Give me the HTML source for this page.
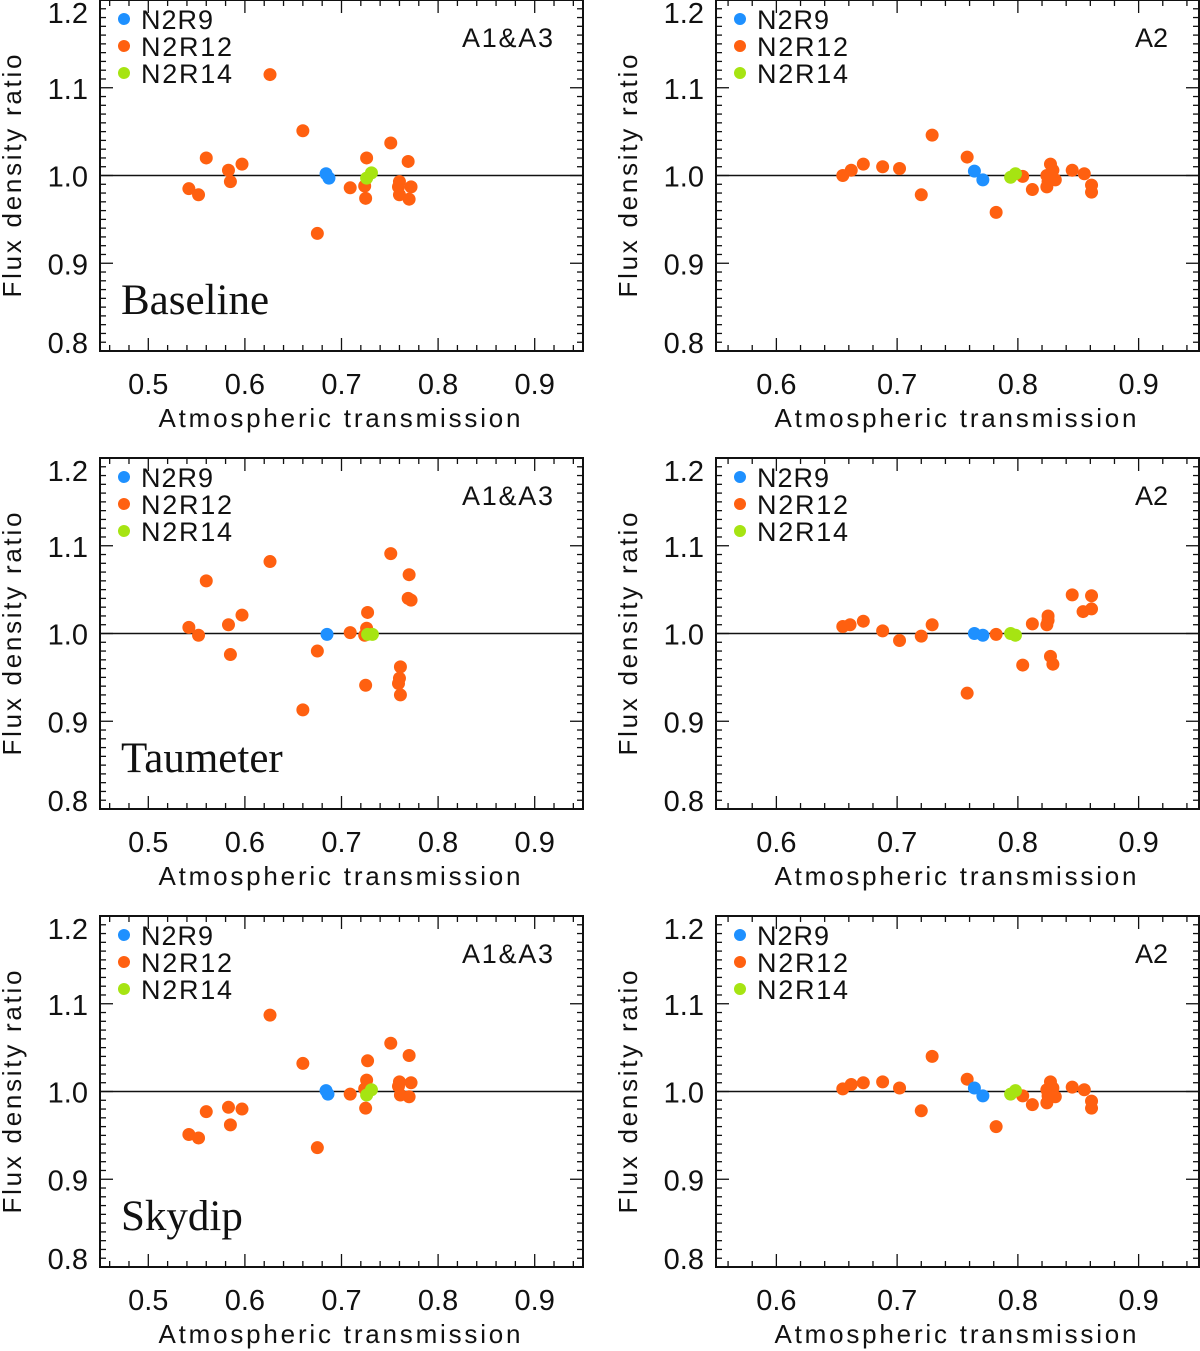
<!DOCTYPE html>
<html><head><meta charset="utf-8">
<style>
html,body{margin:0;padding:0;background:#fff;}
svg{display:block;}
text{font-family:"Liberation Sans",sans-serif;fill:#111;}
</style></head>
<body>
<svg id="fig" width="1200" height="1351" viewBox="0 0 1200 1351" xmlns="http://www.w3.org/2000/svg"></svg>
<script>
// ---- data: [x, y] per source, per panel ----
const p1L_N2R12 = [[.542,.985],[.552,.978],[.560,1.020],[.583,1.006],[.585,.993],[.597,1.013],[.626,1.115],[.660,1.051],[.675,.934],[.709,.986],[.724,.988],[.725,.974],[.726,1.020],[.751,1.037],[.760,.993],[.759,.987],[.760,.978],[.769,1.016],[.772,.987],[.770,.973]];
const p1L_N2R9 = [[.684,1.002],[.687,.997]];
const p1L_N2R14 = [[.726,.997],[.731,1.003]];
const p1R_N2R12 = [[.655,1.0],[.662,1.006],[.672,1.013],[.688,1.010],[.702,1.008],[.720,.978],[.729,1.046],[.758,1.021],[.782,.958],[.804,.999],[.812,.984],[.824,.987],[.824,1.0],[.827,1.013],[.829,1.006],[.831,.995],[.825,.993],[.845,1.006],[.855,1.002],[.861,.989],[.861,.981]];
const p1R_N2R9 = [[.764,1.005],[.771,.995]];
const p1R_N2R14 = [[.794,.998],[.798,1.002]];
const p2L_N2R12 = [[.542,1.007],[.552,.998],[.560,1.060],[.583,1.010],[.585,.976],[.597,1.021],[.626,1.082],[.660,.913],[.675,.980],[.709,1.001],[.724,.998],[.726,1.006],[.727,1.024],[.725,.941],[.751,1.091],[.761,.962],[.760,.949],[.759,.943],[.761,.930],[.770,1.067],[.769,1.040],[.772,1.038]];
const p2L_N2R9 = [[.685,.999]];
const p2L_N2R14 = [[.727,.999],[.732,.999]];
const p2R_N2R12 = [[.655,1.008],[.661,1.010],[.672,1.014],[.688,1.003],[.702,.992],[.720,.997],[.729,1.010],[.758,.932],[.782,.999],[.804,.964],[.812,1.011],[.824,1.010],[.825,1.020],[.825,1.015],[.827,.974],[.829,.965],[.845,1.044],[.854,1.025],[.861,1.028],[.861,1.043]];
const p2R_N2R9 = [[.764,1.0],[.771,.998]];
const p2R_N2R14 = [[.794,1.0],[.798,.998]];
const p3L_N2R12 = [[.542,.951],[.552,.947],[.560,.977],[.583,.982],[.585,.962],[.597,.980],[.626,1.087],[.660,1.032],[.675,.936],[.709,.997],[.724,1.003],[.726,1.013],[.727,1.035],[.725,.981],[.751,1.055],[.760,1.011],[.759,1.006],[.761,.996],[.770,1.041],[.772,1.010],[.770,.994]];
const p3L_N2R9 = [[.684,1.001],[.686,.997]];
const p3L_N2R14 = [[.726,.996],[.731,1.002]];
const p3R_N2R12 = [[.655,1.003],[.662,1.008],[.672,1.010],[.688,1.011],[.702,1.004],[.720,.978],[.729,1.040],[.758,1.014],[.782,.960],[.804,.995],[.812,.985],[.824,.987],[.824,1.002],[.827,1.011],[.829,1.004],[.831,.994],[.825,.995],[.845,1.005],[.855,1.002],[.861,.989],[.861,.981]];
const p3R_N2R9 = [[.764,1.004],[.771,.995]];
const p3R_N2R14 = [[.794,.997],[.798,1.001]];
const xTicksL = [0.5,0.6,0.7,0.8,0.9];
const xTicksR = [0.6,0.7,0.8,0.9];
const yTicks = [0.8,0.9,1.0,1.1,1.2];
const methods = ["Baseline","Taumeter","Skydip"];
const seriesNames = ["N2R9","N2R12","N2R14"];

const NS="http://www.w3.org/2000/svg";
const svg=document.getElementById('fig');
const colors={"N2R9":"#1e90ff","N2R12":"#ff6010","N2R14":"#a6e412"};
const legendLen={"N2R9":72,"N2R12":91,"N2R14":91};
function mk(tag,attrs,parent){const e=document.createElementNS(NS,tag);for(const k in attrs)e.setAttribute(k,attrs[k]);(parent||svg).appendChild(e);return e;}

const data=[
 [[p1L_N2R9,p1L_N2R12,p1L_N2R14],[p1R_N2R9,p1R_N2R12,p1R_N2R14]],
 [[p2L_N2R9,p2L_N2R12,p2L_N2R14],[p2R_N2R9,p2R_N2R12,p2R_N2R14]],
 [[p3L_N2R9,p3L_N2R12,p3L_N2R14],[p3R_N2R9,p3R_N2R12,p3R_N2R14]]];

function panel(row,col){
  const top=row*458, bot=top+351;
  const left=col?716:100, right=col?1199:583;
  const xmin=col?0.55:0.45, xmax=0.95;
  const X=v=>left+(v-xmin)/(xmax-xmin)*(right-left);
  const Y=v=>bot-(v-0.8)/0.4*(bot-top);
  const g=mk('g',{});
  
  
  const tk=mk('g',{stroke:'#111','stroke-width':1.3},g);
  
  
  for(let i=Math.round(xmin*50);i<=Math.round(xmax*50);i++){
    const v=i/50, x=X(v); if(x<left+1||x>right-1)continue;
    const major=Math.abs(v*10-Math.round(v*10))<1e-6; const L=major?13:6;
    mk('line',{x1:x,y1:bot,x2:x,y2:bot-L},tk); mk('line',{x1:x,y1:top,x2:x,y2:top+L},tk);
  }
  for(let i=80;i<=120;i++){
    const v=i/100,y=Y(v); if(y<top+1||y>bot-1)continue;
    const L=(i%10===0)?13:6;
    mk('line',{x1:left,y1:y,x2:left+L,y2:y},tk); mk('line',{x1:right,y1:y,x2:right-L,y2:y},tk);
  }
  const fr=mk('rect',{x:left,y:top,width:right-left,height:bot-top,fill:'none',stroke:'#111','stroke-width':2},g);
  
  
  const ref=mk('line',{x1:left,x2:right,y1:Y(1.0),y2:Y(1.0),stroke:'#111','stroke-width':1.6},g);
  
  
  (col?xTicksR:xTicksL).forEach(v=>{
    const t=mk('text',{x:X(v),y:top+394,'text-anchor':'middle','font-size':29},g);
    t.textContent=v.toFixed(1);
    
    
  });
  yTicks.forEach(v=>{
    let y=Math.min(Math.max(Y(v),top+12),bot-9);
    const t=mk('text',{x:left-12,y:y+11,'text-anchor':'end','font-size':29},g);
    t.textContent=v.toFixed(1);
    
    
  });
  const xt=mk('text',{x:(left+right)/2-2,y:top+427,'text-anchor':'middle','font-size':26,textLength:362,lengthAdjust:'spacing'},g);
  xt.textContent='Atmospheric transmission';
  
  
  const yx=left-79, yc=top+176;
  const yt=mk('text',{x:yx,y:yc,'text-anchor':'middle','font-size':26,textLength:243,lengthAdjust:'spacing',transform:`rotate(-90 ${yx} ${yc})`},g);
  yt.textContent='Flux density ratio';
  
  
  seriesNames.forEach((s,i)=>{
    const ly=top+19+i*27;
    const c=mk('circle',{cx:left+24,cy:ly,r:6,fill:colors[s]},g);
    
    
    const t=mk('text',{x:left+41,y:ly+10,'font-size':27,textLength:legendLen[s],lengthAdjust:'spacing'},g);
    t.textContent=s;
    
    
  });
  const at=mk('text',{x:col?1135:462,y:top+47,'font-size':27,textLength:col?33:91,lengthAdjust:'spacing'},g);
  at.textContent=col?'A2':'A1&A3';
  
  
  if(!col){
    const mt=mk('text',{x:121,y:top+314,'font-size':43,style:'font-family:"Liberation Serif",serif'},g);
    mt.textContent=methods[row];
    
    
  }
  [1,0,2].forEach(si=>{
    data[row][col][si].forEach(p=>{
      const c=mk('circle',{cx:X(p[0]),cy:Y(p[1]),r:6.5,fill:colors[seriesNames[si]]},g);
      
      
    });
  });
}
for(let r=0;r<3;r++)for(let c=0;c<2;c++)panel(r,c);
</script>
</body></html>
